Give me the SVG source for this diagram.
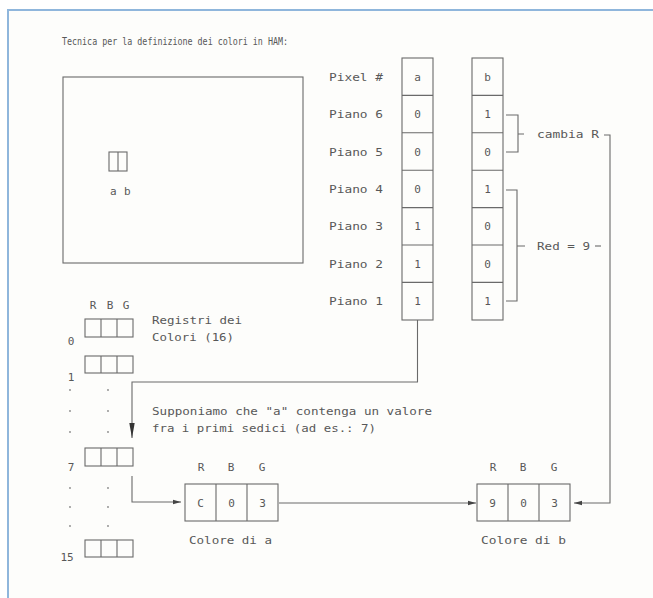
<svg xmlns="http://www.w3.org/2000/svg" width="653" height="598" viewBox="0 0 653 598">
<style>
.t{font-family:"DejaVu Sans Mono","Liberation Mono",monospace;font-size:11px;fill:#585858}
.c{text-anchor:middle}
.ln{fill:none;stroke:#6a6a6a;stroke-width:1.1}
.bx{fill:none;stroke:#6a6a6a;stroke-width:1.1}
.dot{fill:#888}
</style>
<defs>
<marker id="ah" markerWidth="8" markerHeight="6" refX="8" refY="3" orient="auto" markerUnits="userSpaceOnUse">
<path d="M0,0.8 L8,3 L0,5.2 Z" fill="#444"/>
</marker>
<marker id="ahl" markerWidth="15" markerHeight="6" refX="15" refY="3" orient="auto" markerUnits="userSpaceOnUse">
<path d="M0,0.3 L15,3 L0,5.7 Z" fill="#333"/>
</marker>
</defs>
<rect width="653" height="598" fill="#ffffff"/>
<rect x="8" y="10" width="645" height="588" fill="#fdfdfb"/>
<path d="M8,598 V10 H653" fill="none" stroke="#8fb6dc" stroke-width="2"/>

<text class="t" x="62" y="45" font-size="11" textLength="226" lengthAdjust="spacingAndGlyphs">Tecnica per la definizione dei colori in HAM:</text>

<g id="screen">
<rect class="bx" x="63" y="77" width="240" height="186"/>
<rect class="bx" x="109" y="152" width="18" height="19"/>
<line class="ln" x1="118" y1="152" x2="118" y2="171"/>
<text class="t" x="110" y="195" font-size="10">a</text>
<text class="t" x="124" y="195" font-size="10">b</text>
</g>

<g id="plane-labels">
<text class="t" x="329" y="81" textLength="54" lengthAdjust="spacingAndGlyphs">Pixel #</text>
<text class="t" x="329" y="118" textLength="54" lengthAdjust="spacingAndGlyphs">Piano 6</text>
<text class="t" x="329" y="156" textLength="54" lengthAdjust="spacingAndGlyphs">Piano 5</text>
<text class="t" x="329" y="193" textLength="54" lengthAdjust="spacingAndGlyphs">Piano 4</text>
<text class="t" x="329" y="230" textLength="54" lengthAdjust="spacingAndGlyphs">Piano 3</text>
<text class="t" x="329" y="268" textLength="54" lengthAdjust="spacingAndGlyphs">Piano 2</text>
<text class="t" x="329" y="305" textLength="54" lengthAdjust="spacingAndGlyphs">Piano 1</text>
</g>

<g id="pixel-a">
<rect class="bx" x="402" y="58" width="31" height="262"/>
<path class="ln" d="M402,95.4H433M402,132.8H433M402,170.2H433M402,207.6H433M402,245H433M402,282.4H433"/>
<text class="t c" x="417.5" y="81">a</text>
<text class="t c" x="417.5" y="118">0</text>
<text class="t c" x="417.5" y="156">0</text>
<text class="t c" x="417.5" y="193">0</text>
<text class="t c" x="417.5" y="230">1</text>
<text class="t c" x="417.5" y="268">1</text>
<text class="t c" x="417.5" y="305">1</text>
</g>

<g id="pixel-b">
<rect class="bx" x="472" y="58" width="31" height="262"/>
<path class="ln" d="M472,95.4H503M472,132.8H503M472,170.2H503M472,207.6H503M472,245H503M472,282.4H503"/>
<text class="t c" x="487.5" y="81">b</text>
<text class="t c" x="487.5" y="118">1</text>
<text class="t c" x="487.5" y="156">0</text>
<text class="t c" x="487.5" y="193">1</text>
<text class="t c" x="487.5" y="230">0</text>
<text class="t c" x="487.5" y="268">0</text>
<text class="t c" x="487.5" y="305">1</text>
</g>

<g id="cambia-R">
<path class="ln" d="M506,115H518V152H506M518,134H524"/>
<text class="t" x="537" y="138" textLength="62" lengthAdjust="spacingAndGlyphs">cambia R</text>
</g>

<g id="red-9">
<path class="ln" d="M506,190H517V301H506M517,246H525"/>
<text class="t" x="537" y="250" textLength="53" lengthAdjust="spacingAndGlyphs">Red = 9</text>
<line class="ln" x1="595" y1="246" x2="601" y2="246"/>
</g>

<g id="registers">
<text class="t c" x="93" y="309" font-size="10">R</text>
<text class="t c" x="110" y="309" font-size="10">B</text>
<text class="t c" x="126" y="309" font-size="10">G</text>
<rect class="bx" x="85" y="319" width="48" height="18"/>
<path class="ln" d="M101,319V337M117,319V337"/>
<text class="t c" x="71" y="345">0</text>
<rect class="bx" x="85" y="356" width="48" height="17"/>
<path class="ln" d="M101,356V373M117,356V373"/>
<text class="t c" x="71" y="381">1</text>
<rect class="bx" x="85" y="448" width="48" height="18"/>
<path class="ln" d="M101,448V466M117,448V466"/>
<text class="t c" x="71" y="471">7</text>
<rect class="bx" x="85" y="540" width="48" height="17"/>
<path class="ln" d="M101,540V557M117,540V557"/>
<text class="t c" x="67" y="561">15</text>
<g class="dot">
<circle cx="70" cy="390" r="0.9"/><circle cx="108" cy="390" r="0.9"/>
<circle cx="70" cy="411" r="0.9"/><circle cx="108" cy="411" r="0.9"/>
<circle cx="70" cy="432" r="0.9"/><circle cx="108" cy="432" r="0.9"/>
<circle cx="70" cy="488" r="0.9"/><circle cx="108" cy="488" r="0.9"/>
<circle cx="70" cy="507" r="0.9"/><circle cx="108" cy="507" r="0.9"/>
<circle cx="70" cy="526" r="0.9"/><circle cx="108" cy="526" r="0.9"/>
</g>
<text class="t" x="152" y="324" textLength="90" lengthAdjust="spacingAndGlyphs">Registri dei</text>
<text class="t" x="152" y="341" textLength="82" lengthAdjust="spacingAndGlyphs">Colori (16)</text>
</g>

<g id="note">
<text class="t" x="152" y="415" textLength="280" lengthAdjust="spacingAndGlyphs">Supponiamo che "a" contenga un valore</text>
<text class="t" x="152" y="432" textLength="224" lengthAdjust="spacingAndGlyphs">fra i primi sedici (ad es.: 7)</text>
</g>

<g id="colore-a">
<text class="t c" x="201" y="471">R</text>
<text class="t c" x="231" y="471">B</text>
<text class="t c" x="262" y="471">G</text>
<rect class="bx" x="185" y="484" width="93" height="37"/>
<path class="ln" d="M216,484V521M247,484V521"/>
<text class="t c" x="200.5" y="507">C</text>
<text class="t c" x="231.5" y="507">0</text>
<text class="t c" x="262.5" y="507">3</text>
<text class="t" x="189" y="544" textLength="83" lengthAdjust="spacingAndGlyphs">Colore di a</text>
</g>

<g id="colore-b">
<text class="t c" x="493" y="471">R</text>
<text class="t c" x="523" y="471">B</text>
<text class="t c" x="554" y="471">G</text>
<rect class="bx" x="477" y="484" width="93" height="37"/>
<path class="ln" d="M508,484V521M539,484V521"/>
<text class="t c" x="492.5" y="507">9</text>
<text class="t c" x="523.5" y="507">0</text>
<text class="t c" x="554.5" y="507">3</text>
<text class="t" x="481" y="544" textLength="85" lengthAdjust="spacingAndGlyphs">Colore di b</text>
</g>

<g id="connectors">
<path class="ln" d="M417.5,320V382H132V438" marker-end="url(#ahl)"/>
<path class="ln" d="M132,476V502H181" marker-end="url(#ah)"/>
<path class="ln" d="M279,503H476" marker-end="url(#ah)"/>
<path class="ln" d="M604,135H610V503H574" marker-end="url(#ah)"/>
</g>
</svg>
